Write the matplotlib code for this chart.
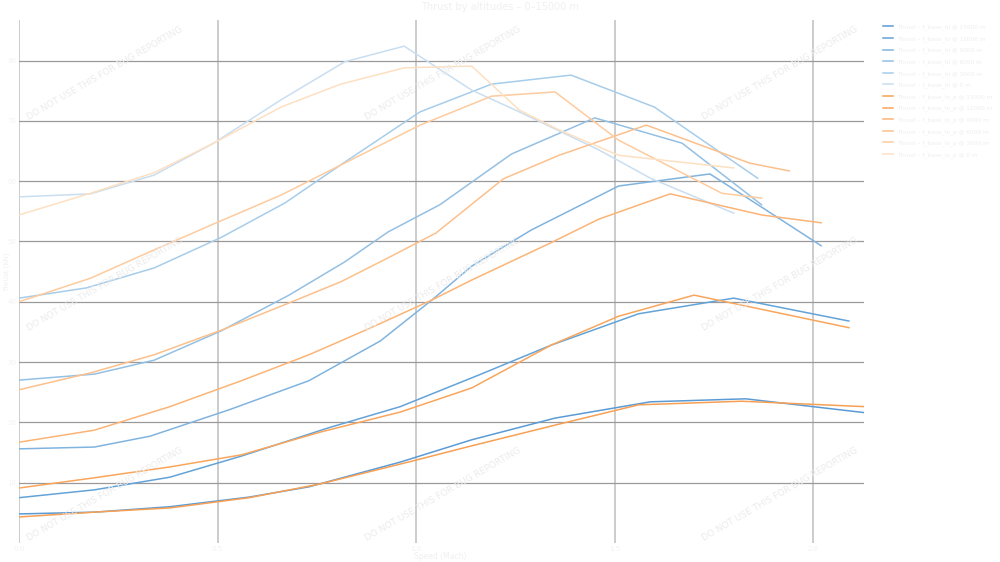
import matplotlib
matplotlib.use("Agg")
import matplotlib.pyplot as plt

# Thrust (kN) vs Mach
hi_labels = ["Thrust – f_base_hi @ 15000 m", "Thrust – f_base_hi @ 12000 m",
             "Thrust – f_base_hi @ 9000 m", "Thrust – f_base_hi @ 6000 m",
             "Thrust – f_base_hi @ 3000 m", "Thrust – f_base_hi @ 0 m"]
lo_labels = ["Thrust – f_base_lo_p @ 15000 m", "Thrust – f_base_lo_p @ 12000 m",
             "Thrust – f_base_lo_p @ 9000 m", "Thrust – f_base_lo_p @ 6000 m",
             "Thrust – f_base_lo_p @ 3000 m", "Thrust – f_base_lo_p @ 0 m"]

hi_mach = [
    [0, 0.19, 0.38, 0.58, 0.73, 0.96, 1.14, 1.35, 1.59, 1.83, 2.13],
    [0, 0.19, 0.38, 0.56, 0.78, 0.96, 1.16, 1.34, 1.56, 1.80, 2.09],
    [0, 0.19, 0.33, 0.53, 0.73, 0.91, 1.04, 1.14, 1.29, 1.51, 1.74, 1.87, 2.02],
    [0, 0.19, 0.34, 0.51, 0.68, 0.82, 0.93, 1.06, 1.24, 1.45, 1.67, 1.87],
    [0, 0.17, 0.34, 0.51, 0.67, 0.81, 1.01, 1.19, 1.39, 1.60, 1.86],
    [0, 0.18, 0.34, 0.49, 0.66, 0.82, 0.97, 1.14, 1.26, 1.46, 1.59, 1.80],
]
hi_thrust = [
    [4.8, 5.1, 6.0, 7.6, 9.3, 13.4, 17.1, 20.7, 23.4, 23.9, 21.6],
    [7.5, 8.8, 10.9, 14.4, 19.1, 22.6, 27.9, 32.8, 38.0, 40.6, 36.8],
    [15.6, 15.9, 17.7, 22.1, 26.9, 33.5, 40.3, 45.9, 51.9, 59.2, 61.2, 55.7, 49.3],
    [27.0, 28.0, 30.3, 35.2, 41.1, 46.6, 51.6, 56.1, 64.5, 70.5, 66.3, 56.1],
    [40.6, 42.3, 45.6, 50.7, 56.4, 62.7, 71.5, 76.1, 77.6, 72.3, 60.5],
    [57.4, 57.9, 61.0, 66.3, 73.5, 79.8, 82.4, 75.1, 71.5, 65.2, 60.5, 54.7],
]

lo_mach = [
    [0, 0.19, 0.38, 0.58, 0.76, 0.98, 1.14, 1.36, 1.56, 1.82, 2.13],
    [0, 0.19, 0.38, 0.56, 0.76, 0.96, 1.14, 1.34, 1.51, 1.70, 2.09],
    [0, 0.19, 0.38, 0.56, 0.73, 0.88, 1.04, 1.14, 1.34, 1.46, 1.64, 1.87, 2.02],
    [0, 0.18, 0.34, 0.51, 0.68, 0.81, 0.93, 1.05, 1.22, 1.36, 1.58, 1.84, 1.94],
    [0, 0.18, 0.34, 0.49, 0.66, 0.82, 1.01, 1.19, 1.35, 1.51, 1.77, 1.87],
    [0, 0.18, 0.34, 0.49, 0.66, 0.81, 0.97, 1.14, 1.26, 1.36, 1.51, 1.80],
]
lo_thrust = [
    [4.3, 5.1, 5.8, 7.5, 9.8, 13.4, 16.1, 19.7, 22.9, 23.5, 22.6],
    [9.1, 10.8, 12.6, 14.6, 18.4, 21.7, 25.7, 32.8, 37.6, 41.1, 35.7],
    [16.7, 18.7, 22.6, 26.9, 31.2, 35.5, 40.3, 43.6, 49.8, 53.7, 57.9, 54.4, 53.1],
    [25.4, 28.2, 31.2, 35.3, 39.8, 43.3, 47.3, 51.4, 60.4, 64.3, 69.3, 63.0, 61.7],
    [40.0, 43.9, 48.6, 52.9, 57.7, 63.0, 69.3, 74.1, 74.8, 66.8, 58.0, 57.2],
    [54.4, 58.0, 61.4, 66.3, 72.3, 76.1, 78.8, 79.1, 71.8, 68.5, 64.3, 62.2],
]

blues = ["#5b9bd5", "#63a3d8", "#80b4df", "#94c0e4", "#a7cdea", "#c9def1"]
oranges = ["#f7a054", "#f9a65c", "#fbb476", "#fcc08c", "#fdcb9e", "#fde0c2"]

fig = plt.figure(figsize=(10, 5.62), dpi=100)
ax = fig.add_axes([0.019, 0.034, 0.845, 0.93])

for i in range(6):
    ax.plot(hi_mach[i], hi_thrust[i], color=blues[i], lw=1.1, label=hi_labels[i])
for i in range(6):
    ax.plot(lo_mach[i], lo_thrust[i], color=oranges[i], lw=1.1, label=lo_labels[i])

ax.set_xlim(0, 2.128)
ax.set_ylim(0, 86.7)
ax.set_xticks([0, 0.5, 1.0, 1.5, 2.0])
ax.set_yticks([10, 20, 30, 40, 50, 60, 70, 80])
ax.xaxis.grid(True, color="#c8c8c8", lw=1.3)
ax.yaxis.grid(True, color="#9a9a9a", lw=0.9)
ax.set_axisbelow(True)
for s in ax.spines.values():
    s.set_visible(False)
ax.tick_params(length=0, labelsize=5, colors="#f2f2f2", pad=2)

fig.text(0.44, 0.01, "Speed (Mach)", ha="center", va="center", fontsize=5.5, color="#f0f0f0")
fig.text(0.007, 0.516, "Thrust (kN)", ha="center", va="center", rotation=90,
         fontsize=5, color="#f0f0f0")
fig.text(0.5, 0.988, "Thrust by altitudes – 0–15000 m", ha="center", va="center",
         fontsize=7, color="#f0f0f0")

leg = ax.legend(loc="upper left", bbox_to_anchor=(1.018, 1.0), frameon=False,
                fontsize=4.2, handlelength=1.6, handletextpad=0.7, labelspacing=1.0,
                borderpad=0.2)
for t in leg.get_texts():
    t.set_color("#eeeeee")

# watermark
for wx in [0.105, 0.443, 0.78]:
    for wy in [0.87, 0.495, 0.12]:
        fig.text(wx, wy, "DO NOT USE THIS FOR BUG REPORTING", rotation=30,
                 ha="center", va="center", fontsize=6.5, color="#ebebeb", zorder=0)

fig.savefig("out.png", dpi=100)
